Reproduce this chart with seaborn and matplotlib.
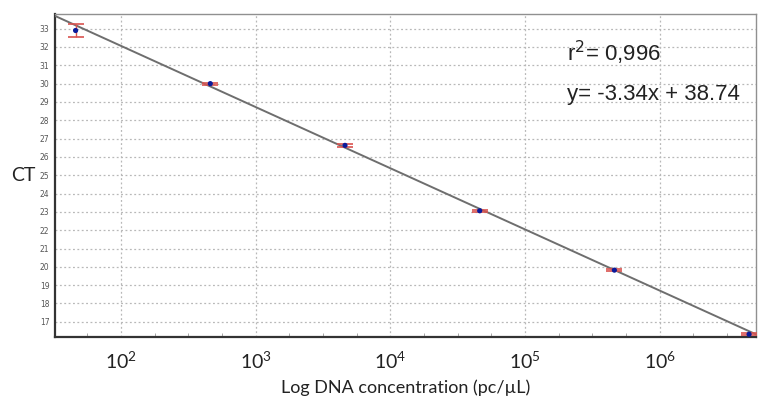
import numpy as np
import pandas as pd
import matplotlib
matplotlib.use("Agg")
import matplotlib.pyplot as plt
import matplotlib.ticker as mticker
import seaborn as sns

# Datos
conc = [4.6e1, 4.6e2, 4.6e3, 4.6e4, 4.6e5, 4.6e6]
ct_mean = [32.9, 30.0, 26.63, 23.06, 19.82, 16.32]
ct_err = [0.33, 0.06, 0.08, 0.06, 0.07, 0.06]
slope = -3.34
intercept = 38.74
r2_text = "0,996"

df = pd.DataFrame({"conc": conc, "ct": ct_mean, "err": ct_err})

sns.set_style("white")
fig = plt.figure(figsize=(7.61, 3.96), dpi=100)
ax = fig.add_axes([0.0723, 0.149, 0.9211, 0.8156])

ax.set_xscale("log")
ax.set_xlim(10 ** 1.51, 10 ** 6.714)
ax.set_ylim(16.17, 33.8)

# recta de regresión
xl = np.log10(ax.get_xlim())
fit = pd.DataFrame({"x": 10 ** xl, "y": slope * xl + intercept})
sns.lineplot(data=fit, x="x", y="y", ax=ax, color="#6e6e6e", lw=1.4, zorder=3)

ax.errorbar(df["conc"], df["ct"], yerr=df["err"], fmt="none",
            ecolor="#d9534f", elinewidth=1.0, capsize=5.5, capthick=1.2, zorder=4)
sns.scatterplot(data=df, x="conc", y="ct", ax=ax, color="#0a1a9a",
                s=14, edgecolor="none", zorder=5)

ax.set_yticks(range(17, 34))
ax.yaxis.set_major_formatter(mticker.FormatStrFormatter("%d"))
ax.tick_params(axis="y", labelsize=5.5, labelcolor="#555555", length=0, pad=4)
ax.xaxis.set_major_locator(mticker.FixedLocator([1e2, 1e3, 1e4, 1e5, 1e6]))
ax.xaxis.set_minor_locator(mticker.FixedLocator(
    [10 ** (k + q) for k in range(1, 7) for q in (0.25, 0.5, 0.75)]))
ax.xaxis.set_minor_formatter(mticker.NullFormatter())
ax.tick_params(axis="x", which="major", labelsize=14, length=0, pad=10)
ax.tick_params(axis="x", which="minor", direction="in", length=3,
               color="#999999", bottom=True)
for lab in ax.get_xticklabels():
    lab.set_family("Lato")
    lab.set_color("#222222")

ax.grid(True, which="major", color="#b8b8b8", linestyle=(0, (1.5, 2)), lw=0.9)
for s in ax.spines.values():
    s.set_color("#909090")
    s.set_linewidth(1.0)
ax.spines["left"].set_color("#333333")
ax.spines["bottom"].set_color("#333333")
ax.spines["left"].set_linewidth(1.6)
ax.spines["bottom"].set_linewidth(1.6)

ax.set_xlabel("Log DNA concentration (pc/µL)", fontsize=13, family="Lato",
              color="#222222", labelpad=5)
ax.set_ylabel("CT", fontsize=14, family="Lato", rotation=0, va="center",
              ha="center", color="#222222")
ax.yaxis.set_label_coords(-0.045, 0.5)

ax.text(0.731, 0.88, f"r$^2$= {r2_text}", transform=ax.transAxes,
        fontsize=16, family="Liberation Sans", color="#222222", va="center")
ax.text(0.731, 0.752, f"y= {slope:.2f}x + {intercept:.2f}", transform=ax.transAxes,
        fontsize=16, family="Liberation Sans", color="#222222", va="center")

fig.savefig("out.png", dpi=100)
